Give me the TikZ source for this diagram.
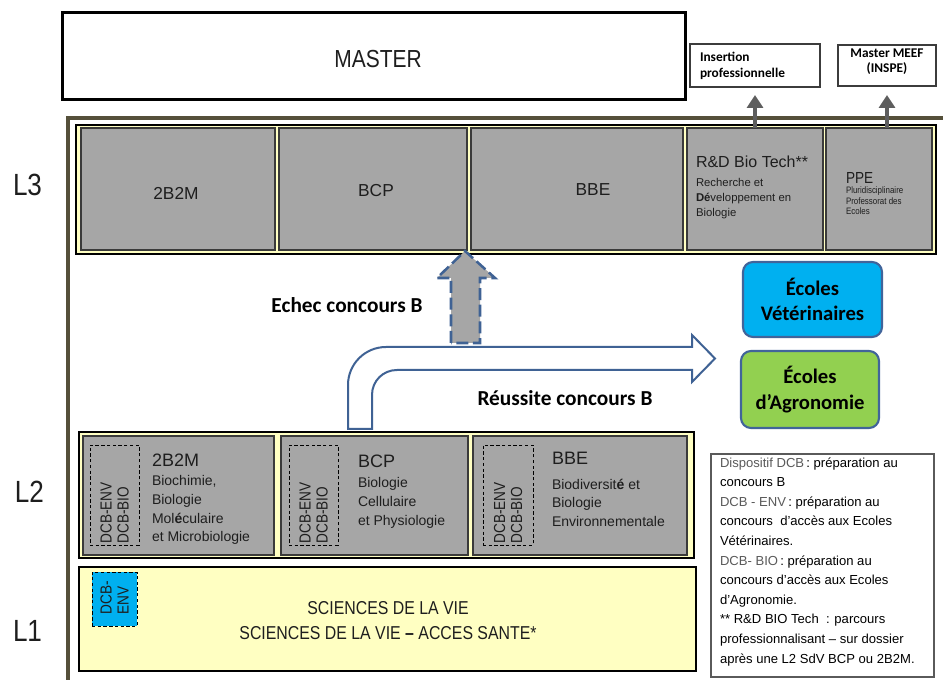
\documentclass[tikz,border=0pt]{standalone}
\usepackage{fontspec}
\setmainfont{Liberation Sans}
\newfontfamily\thinf[FakeStretch=0.85]{Liberation Sans}
\newfontfamily\regf{Liberation Sans}
\newfontfamily\calib{Carlito}
\usetikzlibrary{arrows.meta}
\newcommand\fsz[2]{\fontsize{#1}{#2}\selectfont}
\definecolor{yel}{HTML}{FFFFC2}
\definecolor{gfill}{HTML}{A6A6A6}
\definecolor{gborder}{HTML}{3A3A3A}
\definecolor{framecol}{HTML}{55503A}
\definecolor{cyanbox}{HTML}{00B0F0}
\definecolor{greenbox}{HTML}{92D050}
\definecolor{eborder}{HTML}{41649A}
\definecolor{arrblue}{HTML}{3F6294}
\definecolor{conncol}{HTML}{5E5E5E}
\definecolor{txt}{HTML}{1E1E1E}
\definecolor{ltgray}{HTML}{5A5A5A}
\definecolor{wborder}{HTML}{3C3C3C}
\newcommand\lgt{\regf\color{ltgray}}
\begin{document}
\begin{tikzpicture}[x=0.75pt,y=-0.75pt,
  every node/.style={inner sep=0pt, outer sep=0pt},
  band/.style={draw=black, line width=0.8pt, fill=yel, anchor=north west},
  gbox/.style={draw=gborder, line width=1.1pt, fill=gfill, anchor=north west},
  dbox/.style={draw=black, dash pattern=on 2.5pt off 1.8pt, line width=0.7pt, anchor=north west},
  wbox/.style={draw=wborder, line width=0.9pt, fill=white, anchor=north west},
  ecole/.style={draw=eborder, line width=1.6pt, rounded corners=7.5pt, anchor=north west, align=center, font={\calib\bfseries\fsz{15.5}{19}}},
  conn/.style={draw=conncol, line width=3.5pt, -{Triangle[length=9.75pt,width=12pt]}},
  lvl/.style={anchor=base west, text=txt, font={\thinf\fsz{23}{26}}},
  head/.style={anchor=base west, text=txt, font={\regf\fsz{13.5}{16}}},
  l3head/.style={anchor=base, text=txt, font={\regf\fsz{13}{16}}},
  sub/.style={anchor=north west, align=left, text=txt, font={\regf\fsz{10.5}{13.9}}},
  vert/.style={rotate=90, align=left, text=txt, font={\thinf\fsz{12}{12.75}}},
  lab/.style={anchor=base, font={\calib\bfseries\fsz{16}{19}}},
  smallb/.style={font={\calib\bfseries\fsz{10}{12}}}
]
\useasboundingbox (0,0) rectangle (943,680);
\fill[white] (0,0) rectangle (943,680);

% outer frame
\draw[draw=framecol, line width=2.4pt] (68,684) -- (68,118) -- (947,118);

% MASTER and top boxes
\node[wbox, draw=black, line width=2.25pt, minimum width=467.25pt, minimum height=65.25pt] (master) at (62,13) {};
\node[anchor=base, text=txt, font={\thinf\fsz{18.5}{20}}] (mastert) at (378,68) {MASTER};
\node[wbox, minimum width=97.5pt, minimum height=32.25pt] (ins) at (690,44) {};
\node[smallb, anchor=north west, align=left] (inst) at (700,51.7) {Insertion\\professionnelle};
\node[wbox, minimum width=73.5pt, minimum height=30.75pt] (meef) at (838,45) {};
\node[smallb, anchor=north, align=center, font={\calib\bfseries\fsz{10}{11.25}}] (meeft) at (887,49) {Master MEEF\\(INSPE)};

% L3
\node[lvl] (L3) at (13,196) {L3};
\node[band, minimum width=645pt, minimum height=96.75pt] (l3band) at (76,125) {};
\node[gbox, minimum width=145.5pt, minimum height=91.5pt] (l3a) at (81,128) {};
\node[gbox, minimum width=141pt, minimum height=91.5pt] (l3b) at (279,128) {};
\node[gbox, minimum width=159pt, minimum height=91.5pt] (l3c) at (471,128) {};
\node[gbox, minimum width=102pt, minimum height=91.5pt] (rd) at (687,128) {};
\node[gbox, minimum width=79.5pt, minimum height=91.5pt] (ppe) at (826,128) {};
\node[l3head] (l3at) at (176,200) {2B2M};
\node[l3head] (l3bt) at (376,197) {BCP};
\node[l3head] (l3ct) at (593,196) {BBE};
\node[anchor=base west, text=txt, font={\regf\fsz{12}{14}}] (rdt) at (696,168) {R\&D Bio Tech**};
\node[anchor=north west, align=left, text=txt, font={\regf\fsz{8.5}{11.25}}] (rds) at (696,178.7) {Recherche et\\\textbf{Dé}veloppement en\\Biologie};
\node[anchor=base west, text=txt, font={\thinf\fsz{12}{14}}] (ppet) at (846,184) {PPE};
\node[anchor=north west, align=left, text=txt, font={\thinf\fsz{7}{7.9}}] (ppes) at (846,187) {Pluridisciplinaire\\Professorat des\\Ecoles};

% connectors to top
\draw[conn, shorten >=6pt] (rd.north) -- (ins.south);
\draw[conn, shorten >=6.75pt] (meef.south |- ppe.north) -- (meef.south);

% Ecoles
\node[ecole, fill=cyanbox, minimum width=104.25pt, minimum height=56.25pt] (vet) at (743,262) {Écoles\\Vétérinaires};
\node[ecole, fill=greenbox, minimum width=103.5pt, minimum height=57.75pt] (agro) at (741,351) {Écoles\\d’Agronomie};

% gray dashed arrow
\draw[fill=gfill, draw=arrblue, line width=1.9pt, dash pattern=on 9pt off 3.5pt] (451,343) -- (451,278) -- (437,278) -- (465,251) -- (495,278) -- (480,278) -- (480,343) -- cycle;
% bent arrow
\draw[fill=white, draw=arrblue, line width=1.5pt, line join=miter] (348,429) -- (348,385) .. controls (348,364) and (365,347) .. (386,347) -- (692,347) -- (692,335) -- (715,358.5) -- (692,382) -- (692,370) -- (397,370) .. controls (383,370) and (372,381) .. (372,395) -- (372,429) -- cycle;
\node[lab] (echec) at (347,313) {Echec concours B};
\node[lab] (reuss) at (565,406) {Réussite concours B};

% L2
\node[lvl] (L2) at (15,503) {L2};
\node[band, minimum width=461.25pt, minimum height=94.5pt] (l2band) at (79,432) {};
\node[gbox, minimum width=143.25pt, minimum height=89.25pt] (l2a) at (83,436) {};
\node[gbox, minimum width=140.25pt, minimum height=89.25pt] (l2b) at (281,436) {};
\node[gbox, minimum width=160.5pt, minimum height=89.25pt] (l2c) at (473,436) {};
\node[dbox, minimum width=36.75pt, minimum height=75pt] (da) at (90,445) {};
\node[dbox, minimum width=36.75pt, minimum height=75pt] (db) at (289,445) {};
\node[dbox, minimum width=37.5pt, minimum height=75pt] (dc) at (483,445) {};
\node[vert] (dat) at (114.5,513) {DCB-ENV\\DCB-BIO};
\node[vert] (dbt) at (313.5,513) {DCB-ENV\\DCB-BIO};
\node[vert] (dct) at (508,513) {DCB-ENV\\DCB-BIO};
\node[head] (h2a) at (152,467) {2B2M};
\node[sub] (s2a) at (152,475.8) {Biochimie,\\Biologie\\Mol\textbf{é}culaire\\et Microbiologie};
\node[head] (h2b) at (358,468) {BCP};
\node[sub] (s2b) at (358,477.8) {Biologie\\Cellulaire\\et Physiologie};
\node[head] (h2c) at (552,465) {BBE};
\node[sub] (s2c) at (552,478.8) {Biodiversit\textbf{é} et\\Biologie\\Environnementale};

% L1
\node[lvl] (L1) at (13,642) {L1};
\node[band, minimum width=462.75pt, minimum height=78pt] (l1band) at (79,567) {};
\node[dbox, fill=cyanbox, minimum width=33.75pt, minimum height=40.5pt] (blue) at (92,572) {};
\node[vert] (bluet) at (114.5,598) {DCB-\\ENV};
\node[anchor=base, text=txt, font={\thinf\fsz{14}{16}}] (sv1) at (388,615) {SCIENCES DE LA VIE};
\node[anchor=base, text=txt, font={\thinf\fsz{14}{16}}] (sv2) at (388,640) {SCIENCES DE LA VIE \textbf{–} ACCES SANTE*};

% legend
\node[draw=ltgray, line width=0.8pt, anchor=north west, minimum width=167.25pt, minimum height=167.25pt] (leg) at (711,454) {};
\node[anchor=north west, align=left, font={\regf\fsz{9.8}{14.7}}] (legt) at (720,457.5) {%
{\lgt Dispositif DCB}\,: préparation au\\
concours B\\
{\lgt DCB - ENV}\,: préparation au\\
concours~ d’accès aux Ecoles\\
Vétérinaires.\\
{\lgt DCB- BIO}\,: préparation au\\
concours d’accès aux Ecoles\\
d’Agronomie.\\
** R\&D BIO Tech~ : parcours\\
professionnalisant – sur dossier\\
après une L2 SdV BCP ou 2B2M.};
\end{tikzpicture}
\end{document}
